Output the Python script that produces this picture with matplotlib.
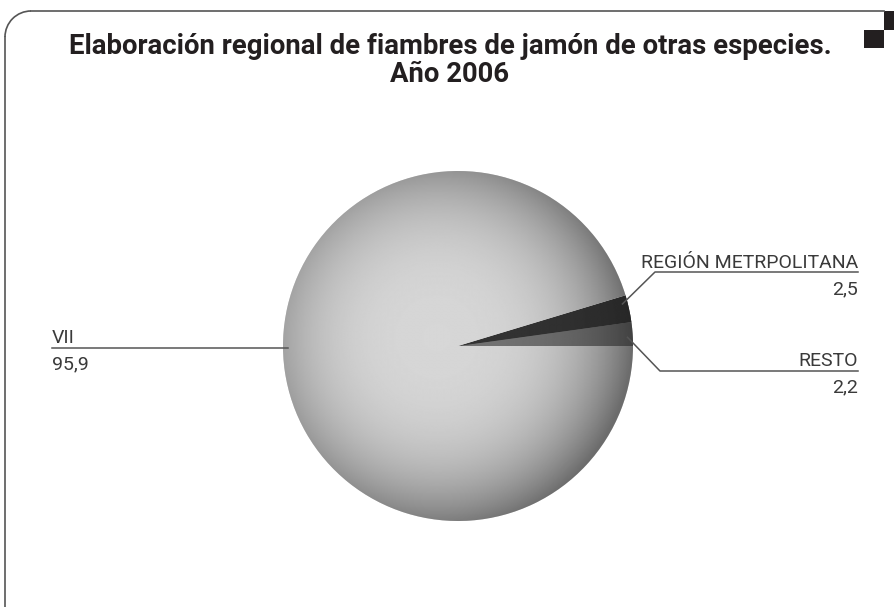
import numpy as np
import matplotlib.pyplot as plt
from matplotlib.patches import Rectangle, Arc

# données
labels = ["RESTO", "REGIÓN METRPOLITANA", "VII"]
values = [2.2, 2.5, 95.9]
value_txt = ["2,2", "2,5", "95,9"]
base_gray = [0.45, 0.20, 0.84]

W, H = 894, 607
fig = plt.figure(figsize=(W/100, H/100), dpi=100)
ax = fig.add_axes([0, 0, 1, 1])
ax.set_xlim(0, W)
ax.set_ylim(0, H)
ax.set_aspect("equal")
ax.axis("off")

def Y(p):
    return H - p

font = ["Roboto", "DejaVu Sans"]

# cadre (haut + gauche, coin arrondi)
r = 26
ax.plot([5, 5], [Y(11 + r), Y(607)], color="#555555", lw=1.2)
ax.plot([5 + r, 884], [Y(11), Y(11)], color="#555555", lw=1.2)
ax.add_patch(Arc((5 + r, Y(11 + r)), 2*r, 2*r, theta1=90, theta2=180, color="#555555", lw=1.2))
ax.add_patch(Rectangle((864, Y(48)), 20, 18, color="#231f20", lw=0))
ax.add_patch(Rectangle((884, Y(30)), 10, 19, color="#231f20", lw=0))

# titre
ax.text(450, Y(54), "Elaboración regional de fiambres de jamón de otras especies.",
        ha="center", va="baseline", fontsize=19.8, fontweight="bold", family=font, color="#231f20")
ax.text(450, Y(82), "Año 2006", ha="center", va="baseline", fontsize=19.8,
        fontweight="bold", family=font, color="#231f20")

# camembert
cx, cy, R = 458, Y(346), 175
wedges, _ = ax.pie(values, startangle=0, counterclock=True, center=(cx, cy), radius=R,
                   wedgeprops=dict(lw=0))
ax.set_xlim(0, W)
ax.set_ylim(0, H)

# ombrage radial
n = 400
xs = np.linspace(cx - R, cx + R, n)
ys = np.linspace(cy - R, cy + R, n)
XX, YY = np.meshgrid(xs, ys)
d = np.hypot(XX - (cx - 0.12*R), YY - (cy + 0.05*R)) / R
shade = 1 - 0.58*np.clip(d/1.12, 0, 1)**3
for w, g in zip(wedges, base_gray):
    img = np.clip(g*shade + (1 - shade)*0.12, 0, 1)
    w.set_facecolor((g, g, g))
    im = ax.imshow(img, cmap="gray", vmin=0, vmax=1, extent=[cx - R, cx + R, cy - R, cy + R],
                   origin="lower", zorder=2, interpolation="bilinear")
    im.set_clip_path(w)

# étiquettes
def pt(ang, rr=0.97):
    a = np.deg2rad(ang)
    return cx + rr*R*np.cos(a), cy + rr*R*np.sin(a)

lc = "#555555"
fs = 14
tc = "#3a3a3a"
# REGIÓN METRPOLITANA
w = wedges[1]
px, py = pt(0.5*(w.theta1 + w.theta2) + 2)
ax.plot([px, 655, 858], [py, Y(272), Y(272)], color=lc, lw=1.1, zorder=3)
ax.text(858, Y(268), labels[1], ha="right", va="baseline", fontsize=fs, family=font, color=tc)
ax.text(858, Y(294), value_txt[1], ha="right", va="baseline", fontsize=fs, family=font, color=tc)
# RESTO
w = wedges[0]
px, py = pt(0.5*(w.theta1 + w.theta2) - 1)
ax.plot([px, 660, 858], [py, Y(371), Y(371)], color=lc, lw=1.1, zorder=3)
ax.text(858, Y(366), labels[0], ha="right", va="baseline", fontsize=fs, family=font, color=tc)
ax.text(858, Y(392), value_txt[0], ha="right", va="baseline", fontsize=fs, family=font, color=tc)
# VII
px, py = pt(180.65)
ax.plot([52, px], [py, py], color=lc, lw=1.1, zorder=3)
ax.text(52, Y(343), labels[2], ha="left", va="baseline", fontsize=fs, family=font, color=tc)
ax.text(52, Y(369), value_txt[2], ha="left", va="baseline", fontsize=fs, family=font, color=tc)

fig.savefig("out.png", dpi=100)
